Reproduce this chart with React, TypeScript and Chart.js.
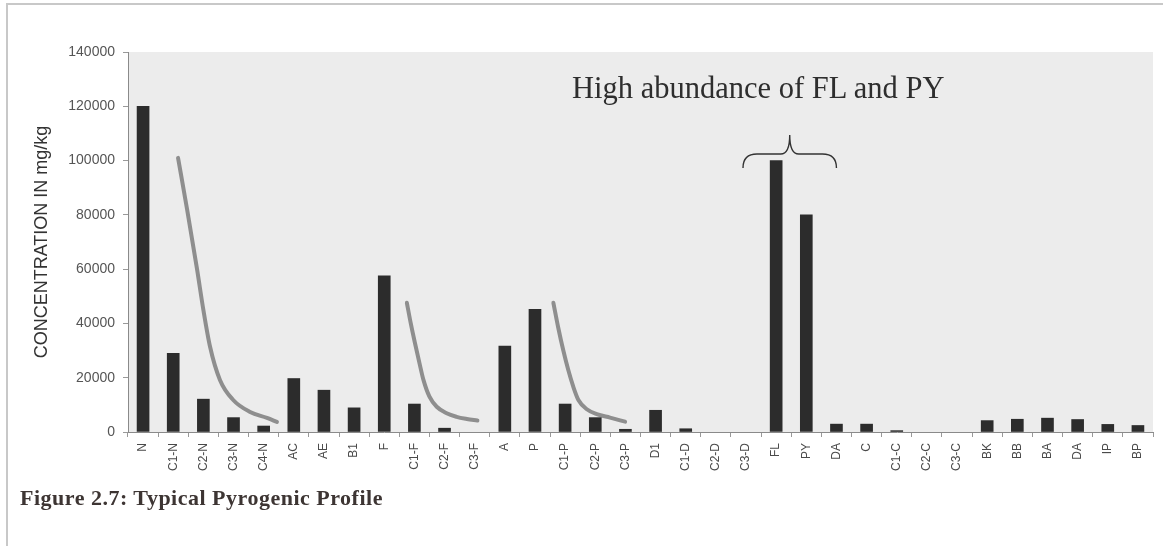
import React, { useEffect, useRef } from "react";
import { Chart, registerables } from "chart.js";

Chart.register(...registerables);

const categories = [
  "N", "C1-N", "C2-N", "C3-N", "C4-N", "AC", "AE", "B1", "F", "C1-F", "C2-F", "C3-F",
  "A", "P", "C1-P", "C2-P", "C3-P", "D1", "C1-D", "C2-D", "C3-D", "FL", "PY", "DA",
  "C", "C1-C", "C2-C", "C3-C", "BK", "BB", "BA", "DA", "IP", "BP",
];

const concentrations = [
  120000, 29000, 12100, 5300, 2200, 19700, 15400, 8900, 57500, 10300, 1400, 0,
  31700, 45200, 10300, 5300, 1000, 8000, 1200, 0, 0, 100000, 80000, 2900,
  2900, 500, 0, 0, 4200, 4700, 5100, 4600, 2800, 2400,
];

// hand-drawn decay curves (x in category-index units, y in mg/kg)
const curveNaphthalenes = [
  { x: 1.16, y: 101000 }, { x: 1.46, y: 82000 }, { x: 1.79, y: 60000 },
  { x: 2.0, y: 45000 }, { x: 2.22, y: 31500 }, { x: 2.55, y: 19200 },
  { x: 2.99, y: 11800 }, { x: 3.55, y: 7400 }, { x: 4.11, y: 5200 },
  { x: 4.44, y: 3700 },
];
const curveFluorenes = [
  { x: 8.75, y: 47600 }, { x: 8.88, y: 40000 }, { x: 9.02, y: 32700 },
  { x: 9.17, y: 25300 }, { x: 9.3, y: 19200 }, { x: 9.5, y: 13000 },
  { x: 9.74, y: 9300 }, { x: 10.07, y: 6900 }, { x: 10.4, y: 5600 },
  { x: 10.74, y: 4800 }, { x: 11.09, y: 4200 },
];
const curvePhenanthrenes = [
  { x: 13.61, y: 47600 }, { x: 13.77, y: 38500 }, { x: 13.94, y: 30000 },
  { x: 14.1, y: 23000 }, { x: 14.27, y: 16700 }, { x: 14.44, y: 11800 },
  { x: 14.72, y: 8400 }, { x: 15.05, y: 6600 }, { x: 15.49, y: 5300 },
  { x: 15.99, y: 3800 },
];

const yTicks = [0, 20000, 40000, 60000, 80000, 100000, 120000, 140000];

const annotationText = "High abundance of FL and PY";
const captionText = "Figure 2.7: Typical Pyrogenic Profile";
// brace spans over FL / PY (category-index units, mg/kg)
const braceFrom = 19.9;
const braceTo = 23.0;
const braceTip = 21.45;
const braceTipValue = 109400;
const braceBarValue = 102400;
const braceEndValue = 97300;

const plotBg = {
  id: "plotBg",
  beforeDraw(chart: any) {
    const { ctx, chartArea } = chart;
    ctx.save();
    ctx.fillStyle = "#ececec";
    ctx.fillRect(chartArea.left, chartArea.top, chartArea.right - chartArea.left, chartArea.bottom - chartArea.top);
    ctx.restore();
  },
};

const bracePlugin = {
  id: "brace",
  afterDatasetsDraw(chart: any) {
    const { ctx } = chart;
    const xs = chart.scales.x;
    const ys = chart.scales.y;
    const x0 = xs.getPixelForValue(braceFrom);
    const x1 = xs.getPixelForValue(braceTo);
    const xm = xs.getPixelForValue(braceTip);
    const yTip = ys.getPixelForValue(braceTipValue);
    const yBar = ys.getPixelForValue(braceBarValue);
    const yEnd = ys.getPixelForValue(braceEndValue);
    ctx.save();
    ctx.strokeStyle = "#333";
    ctx.lineWidth = 1.4;
    ctx.beginPath();
    ctx.moveTo(x0, yEnd);
    ctx.quadraticCurveTo(x0, yBar, x0 + 14, yBar);
    ctx.lineTo(xm - 9, yBar);
    ctx.quadraticCurveTo(xm, yBar, xm, yTip);
    ctx.quadraticCurveTo(xm, yBar, xm + 9, yBar);
    ctx.lineTo(x1 - 14, yBar);
    ctx.quadraticCurveTo(x1, yBar, x1, yEnd);
    ctx.stroke();
    ctx.restore();
  },
};

export default function App() {
  const canvasRef = useRef<HTMLCanvasElement | null>(null);

  useEffect(() => {
    if (!canvasRef.current) return;
    const curveStyle = {
      type: "line" as const,
      xAxisID: "x",
      yAxisID: "y",
      parsing: false,
      borderColor: "#8e8e8e",
      borderWidth: 4,
      borderCapStyle: "round" as const,
      pointRadius: 0,
      cubicInterpolationMode: "monotone" as const,
      fill: false,
    };
    const chart = new Chart(canvasRef.current, {
      type: "bar",
      data: {
        labels: categories,
        datasets: [
          {
            type: "bar",
            data: concentrations,
            backgroundColor: (c: any) => (c.raw ? "#2c2c2c" : "rgba(0,0,0,0)"),
            barThickness: 12,
            grouped: false,
            xAxisID: "x",
            yAxisID: "y",
          } as any,
          { ...curveStyle, data: curveNaphthalenes } as any,
          { ...curveStyle, data: curveFluorenes } as any,
          { ...curveStyle, data: curvePhenanthrenes } as any,
        ],
      },
      options: {
        responsive: false,
        animation: false,
        layout: { padding: { top: 52, right: 10, left: 0, bottom: 0 } },
        plugins: { legend: { display: false }, tooltip: { enabled: false }, title: { display: false } },
        scales: {
          x: {
            type: "category",
            offset: true,
            afterFit(scale: any) {
              scale.height = 114;
            },
            grid: {
              display: true,
              offset: true,
              drawOnChartArea: false,
              drawTicks: true,
              tickLength: 5,
              color: "#999",
            },
            border: { color: "#8a8a8a", width: 1 },
            ticks: {
              autoSkip: false,
              maxRotation: 90,
              minRotation: 90,
              padding: 6,
              color: "#4a4a4a",
              font: { family: "'Liberation Sans', Arial, sans-serif", size: 12 },
            },
          },
          y: {
            min: 0,
            max: 140000,
            afterFit(scale: any) {
              scale.width = 128;
            },
            afterBuildTicks(scale: any) {
              scale.ticks = yTicks.map((v) => ({ value: v }));
            },
            grid: {
              drawOnChartArea: false,
              drawTicks: true,
              tickLength: 5,
              color: "#999",
            },
            border: { color: "#8a8a8a", width: 1 },
            ticks: {
              padding: 8,
              color: "#555",
              font: { family: "'Liberation Sans', Arial, sans-serif", size: 14 },
              callback: (v: any) => String(v),
            },
            title: {
              display: true,
              text: "CONCENTRATION IN mg/kg",
              color: "#333",
              padding: { top: 31, bottom: 0 },
              font: { family: "'Liberation Sans', Arial, sans-serif", size: 18 },
            },
          },
        },
      } as any,
      plugins: [plotBg, bracePlugin],
    });
    return () => chart.destroy();
  }, []);

  return (
    <div
      style={{
        position: "absolute",
        left: 0,
        top: 0,
        width: 1163,
        height: 546,
        background: "#fff",
        overflow: "hidden",
      }}
    >
      <div
        style={{
          position: "absolute",
          left: 6,
          top: 3,
          right: 0,
          bottom: 0,
          borderTop: "2px solid #c8c8c8",
          borderLeft: "2px solid #c8c8c8",
        }}
      />
      <canvas ref={canvasRef} width={1163} height={546} style={{ position: "absolute", left: 0, top: 0 }} />
      <div
        style={{
          position: "absolute",
          left: 572,
          top: 73,
          fontFamily: "'Liberation Serif', serif",
          fontSize: 30.5,
          lineHeight: "31px",
          color: "#2e2e2e",
          whiteSpace: "nowrap",
        }}
      >
        {annotationText}
      </div>
      <div
        style={{
          position: "absolute",
          left: 20,
          top: 487,
          fontFamily: "'Liberation Serif', serif",
          fontWeight: "bold",
          fontSize: 22,
          lineHeight: "22px",
          color: "#3d3533",
          whiteSpace: "nowrap",
          letterSpacing: 0.5,
        }}
      >
        {captionText}
      </div>
    </div>
  );
}
